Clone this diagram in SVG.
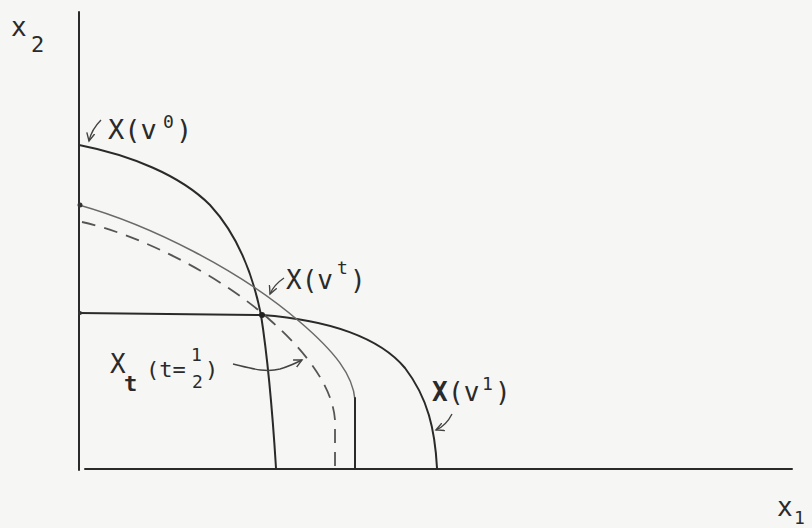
<svg xmlns="http://www.w3.org/2000/svg" width="812" height="528" viewBox="0 0 812 528">
<defs>
<style>
.t{font-family:"DejaVu Sans Mono","Liberation Mono",monospace;fill:#2a2a2a;}
.c{fill:none;stroke:#2a2a2a;stroke-width:2;stroke-linecap:round;}
.thin{fill:none;stroke:#6a6a6a;stroke-width:1.5;}
.dash{fill:none;stroke:#555;stroke-width:1.8;stroke-dasharray:14 9;}
.ar{fill:none;stroke:#444;stroke-width:1.4;}
</style>
<marker id="ah" markerWidth="10" markerHeight="10" refX="8" refY="5" orient="auto" markerUnits="userSpaceOnUse">
<path d="M0,1 L8,5 L0,9" fill="none" stroke="#444" stroke-width="1.4"/>
</marker>
</defs>
<rect width="812" height="528" fill="#f6f6f4"/>
<g id="axes">
<line x1="79" y1="12" x2="79" y2="470" class="c" stroke-width="1.8"/>
<line x1="85" y1="469" x2="792" y2="469" class="c" stroke-width="2"/>
<text class="t" x="11" y="36" font-size="26">x</text>
<text class="t" x="31" y="52" font-size="22">2</text>
<text class="t" x="777" y="516" font-size="26">x</text>
<text class="t" x="794" y="524" font-size="18">1</text>
</g>
<g id="curves">
<path id="Xv0" class="c" d="M79,145 C130,155 180,175 210,205 C235,232 252,270 261,315 C268,360 273,420 276,468"/>
<path id="Xv1" class="c" d="M79,313 L262,315 C330,320 380,338 405,368 C428,398 435,430 437,468"/>
<path id="Xvt" class="thin" d="M79,205 C150,225 240,270 300,322 C335,352 353,375 355,400"/>
<line x1="355" y1="398" x2="355" y2="468" class="c"/>
<path id="Xt" class="dash" d="M82,222 C140,235 220,275 270,320 C310,355 333,390 335,420 L335,468"/>
<circle cx="262" cy="315" r="3" fill="#222"/>
<circle cx="80" cy="205" r="2.5" fill="#333"/>
<circle cx="80" cy="313" r="2" fill="#333"/>
</g>
<g id="labels">
<g id="lab-v0">
<text class="t" x="108" y="139" font-size="27">X(v</text>
<text class="t" x="163" y="128" font-size="18">0</text>
<text class="t" x="176" y="139" font-size="27">)</text>
<path class="ar" d="M101,120 C95,126 91,132 89,141" marker-end="url(#ah)"/>
</g>
<g id="lab-vt">
<text class="t" x="286" y="289" font-size="26">X(v</text>
<text class="t" x="337" y="274" font-size="18">t</text>
<text class="t" x="350" y="289" font-size="26">)</text>
<path class="ar" d="M284,278 C278,282 273,287 270,294" marker-end="url(#ah)"/>
</g>
<g id="lab-xt">
<text class="t" x="110" y="373" font-size="26">X</text>
<text class="t" x="124" y="391" font-size="22" font-weight="bold">t</text>
<text class="t" x="146" y="377" font-size="22">(t=</text>
<text class="t" x="191" y="361" font-size="18">1</text>
<text class="t" x="192" y="388" font-size="18">2</text>
<text class="t" x="205" y="377" font-size="22">)</text>
<path class="ar" d="M233,364 C250,368 265,373 280,369 C290,366 296,363 302,360" marker-end="url(#ah)"/>
</g>
<g id="lab-v1">
<text class="t" x="432" y="401" font-size="26" font-weight="bold">X</text>
<text class="t" x="448" y="401" font-size="26">(v</text>
<text class="t" x="482" y="390" font-size="18">1</text>
<text class="t" x="495" y="401" font-size="26">)</text>
<path class="ar" d="M452,414 C448,422 443,427 436,430" marker-end="url(#ah)"/>
</g>
</g>
</svg>
